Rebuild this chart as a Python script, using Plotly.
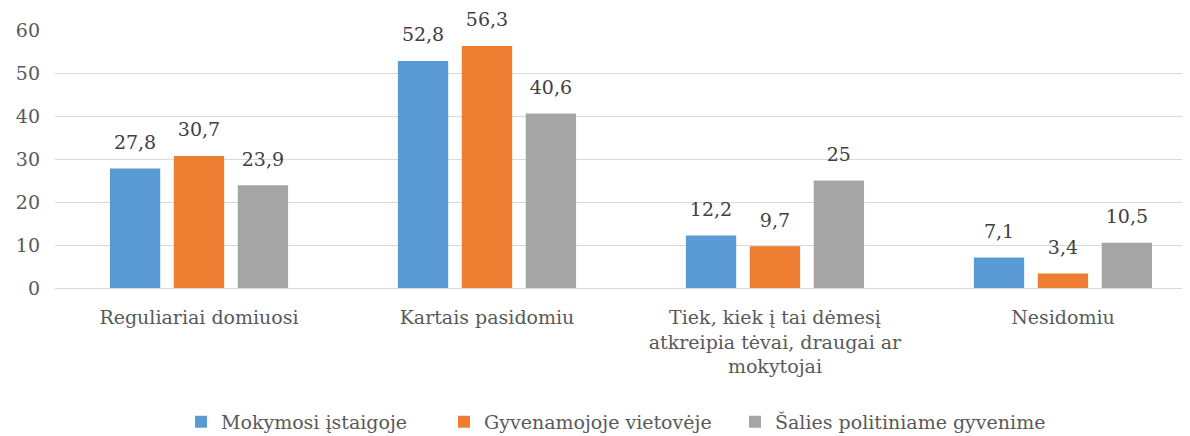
import plotly.graph_objects as go

categories = [
    "Reguliariai domiuosi",
    "Kartais pasidomiu",
    "Tiek, kiek į tai dėmesį<br>atkreipia tėvai, draugai ar<br>mokytojai",
    "Nesidomiu",
]
series_names = ["Mokymosi įstaigoje", "Gyvenamojoje vietovėje", "Šalies politiniame gyvenime"]
mokymosi = [27.8, 52.8, 12.2, 7.1]
gyvenamojoje = [30.7, 56.3, 9.7, 3.4]
salies = [23.9, 40.6, 25, 10.5]
colors = ["#5B9BD5", "#ED7D31", "#A5A5A5"]
y_ticks = [0, 10, 20, 30, 40, 50, 60]

FONT = "DejaVu Serif"
FS = 19

def fmt(v):
    return f"{v:g}".replace(".", ",")

legend_ids = ["legend", "legend2", "legend3"]
legend_x = [173 / 1190, 436 / 1190, 727 / 1190]

fig = go.Figure()
for name, vals, col, lg in zip(series_names, [mokymosi, gyvenamojoje, salies], colors, legend_ids):
    fig.add_trace(go.Bar(
        x=categories, y=vals, name=name, legend=lg,
        marker=dict(color=col, line=dict(width=0)),
        cliponaxis=False,
    ))
# value labels, grouped like the bars
for name, vals in zip(series_names, [mokymosi, gyvenamojoje, salies]):
    fig.add_trace(go.Scatter(
        x=categories, y=vals, mode="markers+text",
        marker=dict(size=22, opacity=0),
        text=[fmt(v) for v in vals], textposition="top center",
        textfont=dict(family=FONT, size=FS, color="#404040"),
        showlegend=False, hoverinfo="skip", cliponaxis=False,
    ))

legend_style = dict(
    orientation="h", xref="container", xanchor="left", y=-0.519, yanchor="middle",
    font=dict(family=FONT, size=FS, color="#595959"),
    itemwidth=30, bgcolor="rgba(0,0,0,0)",
)

fig.update_layout(
    width=1190, height=436,
    margin=dict(l=47, r=0, t=22, b=156, autoexpand=False),
    paper_bgcolor="white", plot_bgcolor="white",
    barmode="group", bargap=0.334, bargroupgap=0.213,
    scattermode="group", scattergap=0.334,
    font=dict(family=FONT, size=FS, color="#595959"),
    showlegend=True,
    legend=dict(x=legend_x[0], **legend_style),
    legend2=dict(x=legend_x[1], **legend_style),
    legend3=dict(x=legend_x[2], **legend_style),
    xaxis=dict(
        range=[-0.5, 3.469], showgrid=False, showline=True, automargin=False,
        linecolor="#D9D9D9", linewidth=1, ticks="",
        tickfont=dict(family=FONT, size=FS, color="#595959"),
        ticklabelstandoff=12,
    ),
    yaxis=dict(
        range=[0, 60], tickvals=y_ticks, showgrid=True, gridcolor="#D9D9D9",
        gridwidth=1, zeroline=False, showline=False, ticks="", automargin=False,
        tickfont=dict(family=FONT, size=FS, color="#595959"),
        ticklabelstandoff=14,
    ),
)

fig.write_html("out.html")
